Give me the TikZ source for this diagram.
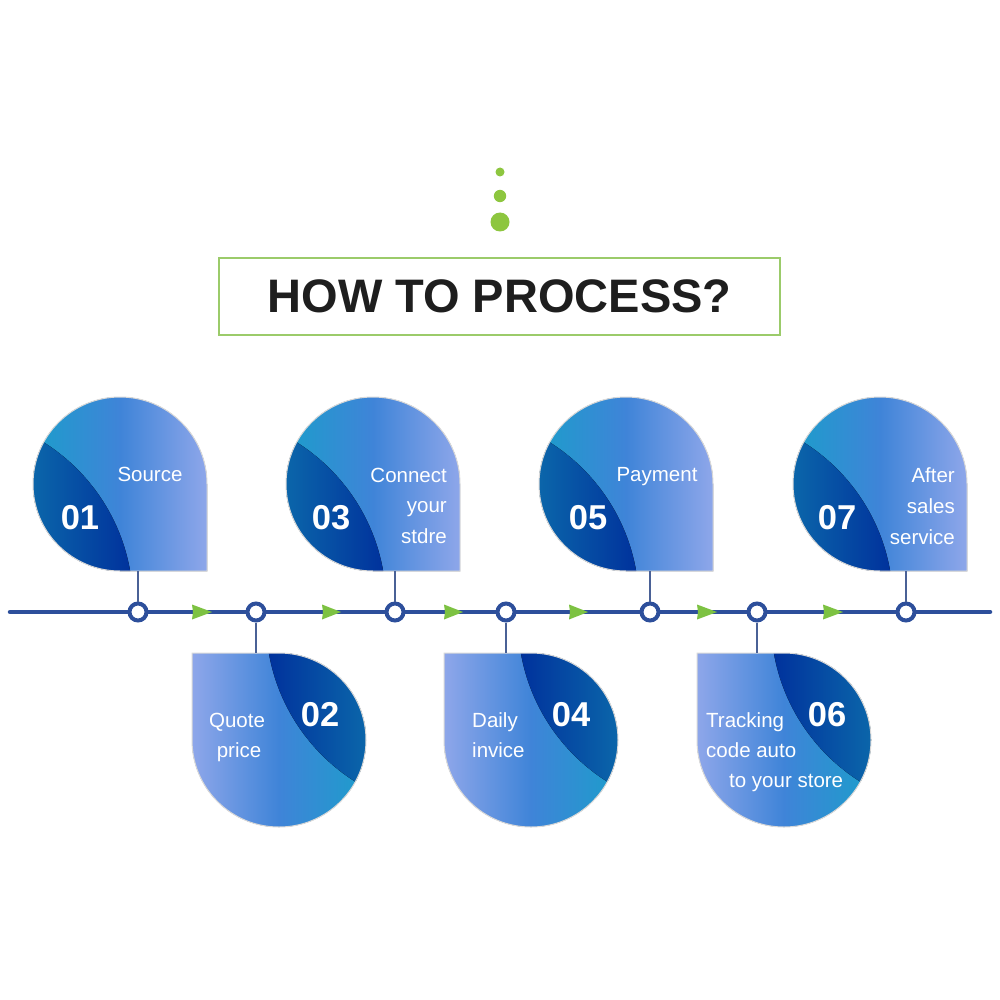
\documentclass[tikz,border=0pt]{standalone}
\usepackage{fontspec}
\setmainfont{Liberation Sans}
\definecolor{tline}{HTML}{2D4F9B}
\definecolor{stemc}{HTML}{4A6196}
\definecolor{gdot}{HTML}{8DC63F}
\definecolor{garrow}{HTML}{7DC242}
\definecolor{tborder}{HTML}{9BCB6A}
\definecolor{cteal}{HTML}{1C9DCB}
\definecolor{cmid}{HTML}{3F84D8}
\definecolor{clight}{HTML}{8FA7EA}
\definecolor{cdarkA}{HTML}{0B66AA}
\definecolor{cdarkB}{HTML}{00319C}
\definecolor{ttext}{HTML}{1E1E1E}
\tikzset{
  cardedge/.style={draw=black!15, line width=1},
  stemline/.style={draw=stemc, line width=1.6},
  dotnode/.style={circle, draw=tline, line width=4, fill=white, minimum size=17, inner sep=0},
  cardlabel/.style={text=white, font=\fontsize{20.5}{24}\selectfont, inner sep=0, text height=15, text depth=4},
  cardnum/.style={text=white, font=\fontsize{34.5}{36}\selectfont\bfseries, inner sep=0, text height=25, text depth=0},
  greenarrow/.style={fill=garrow},
}
\newcommand\TopCard[2]{%
  \begin{scope}
    \path[clip] (#1+87,#2+87) -- (#1,#2+87) arc[start angle=90,end angle=360,radius=87] -- cycle;
    \fill[left color=cteal, right color=clight, middle color=cmid] (#1-88,#2-88) rectangle (#1+88,#2+88);
    \begin{scope}
      \path[clip] (#1-178,#2+120) circle[radius=191];
      \fill[left color=cdarkA, right color=cdarkB] (#1-88,#2-88) rectangle (#1+12,#2+88);
    \end{scope}
  \end{scope}
  \path[cardedge] (#1+87,#2+87) -- (#1,#2+87) arc[start angle=90,end angle=360,radius=87] -- cycle;
}
\newcommand\BotCard[2]{%
  \begin{scope}
    \path[clip] (#1-87,#2-87) -- (#1,#2-87) arc[start angle=270,end angle=540,radius=87] -- cycle;
    \fill[left color=clight, right color=cteal, middle color=cmid] (#1-88,#2-88) rectangle (#1+88,#2+88);
    \begin{scope}
      \path[clip] (#1+178,#2-120) circle[radius=191];
      \fill[left color=cdarkB, right color=cdarkA] (#1-12,#2-88) rectangle (#1+88,#2+88);
    \end{scope}
  \end{scope}
  \path[cardedge] (#1-87,#2-87) -- (#1,#2-87) arc[start angle=270,end angle=540,radius=87] -- cycle;
}
\newcommand\GArrow[2]{\fill[greenarrow] (#1,612) -- (#2,612) -- (#1-1,604.5) -- cycle;\fill[greenarrow] (#1,612) -- (#2,612) -- (#1-1,619.5) -- cycle;}
\begin{document}
\begin{tikzpicture}[x=1pt,y=-1pt]
\useasboundingbox[fill=white] (0,0) rectangle (1000,1000);

% green dots
\fill[gdot] (500,172) circle[radius=4.5];
\fill[gdot] (500,196) circle[radius=6.2];
\fill[gdot] (500,222) circle[radius=9.5];

% title
\node[draw=tborder, line width=1.3, minimum width=561, minimum height=77, inner sep=0,
      font=\fontsize{47}{50}\selectfont\bfseries, text=ttext] (title) at (499.5,296.5) {HOW TO PROCESS?};

% cards
\TopCard{120}{484}
\TopCard{373}{484}
\TopCard{626}{484}
\TopCard{880}{484}
\BotCard{279}{740}
\BotCard{531}{740}
\BotCard{784}{740}

% card bottoms / tops for stems
\coordinate (c1) at (138,571);
\coordinate (c3) at (395,571);
\coordinate (c5) at (650,571);
\coordinate (c7) at (906,571);
\coordinate (c2) at (256,653);
\coordinate (c4) at (506,653);
\coordinate (c6) at (757,653);

% timeline
\coordinate (tl) at (10,612);
\coordinate (tr) at (990,612);
\draw[tline, line width=4.5, line cap=round] (tl) -- (tr);

\GArrow{193}{212}
\GArrow{323}{341}
\GArrow{445}{463}
\GArrow{570}{588}
\GArrow{698}{717}
\GArrow{824}{843}

\node[dotnode] (d1) at (138,612) {};
\node[dotnode] (d2) at (256,612) {};
\node[dotnode] (d3) at (395,612) {};
\node[dotnode] (d4) at (506,612) {};
\node[dotnode] (d5) at (650,612) {};
\node[dotnode] (d6) at (757,612) {};
\node[dotnode] (d7) at (906,612) {};

\draw[stemline] (d1.north) -- (c1);
\draw[stemline] (d3.north) -- (c3);
\draw[stemline] (d5.north) -- (c5);
\draw[stemline] (d7.north) -- (c7);
\draw[stemline] (d2.south) -- (c2);
\draw[stemline] (d4.south) -- (c4);
\draw[stemline] (d6.south) -- (c6);

% card texts
\node[cardlabel] (t1) at (150,476) {Source};
\node[cardnum] (n1) at (80,517) {01};

\node[cardlabel, anchor=east] (t3a) at (447,477) {Connect};
\node[cardlabel, anchor=east] (t3b) at (447,507) {your};
\node[cardlabel, anchor=east] (t3c) at (447,538) {stdre};
\node[cardnum] (n3) at (331,517) {03};

\node[cardlabel] (t5) at (657,476) {Payment};
\node[cardnum] (n5) at (588,517) {05};

\node[cardlabel, anchor=east] (t7a) at (955,477) {After};
\node[cardlabel, anchor=east] (t7b) at (955,508) {sales};
\node[cardlabel, anchor=east] (t7c) at (955,539) {service};
\node[cardnum] (n7) at (837,517) {07};

\node[cardlabel] (t2a) at (237,722) {Quote};
\node[cardlabel] (t2b) at (239,752) {price};
\node[cardnum] (n2) at (320,714) {02};

\node[cardlabel, anchor=west] (t4a) at (472,722) {Daily};
\node[cardlabel, anchor=west] (t4b) at (472,752) {invice};
\node[cardnum] (n4) at (571,714) {04};

\node[cardlabel, anchor=west] (t6a) at (706,722) {Tracking};
\node[cardlabel, anchor=west] (t6b) at (706,752) {code auto};
\node[cardlabel, anchor=west] (t6c) at (729,782) {to your store};
\node[cardnum] (n6) at (827,714) {06};
\end{tikzpicture}
\end{document}
